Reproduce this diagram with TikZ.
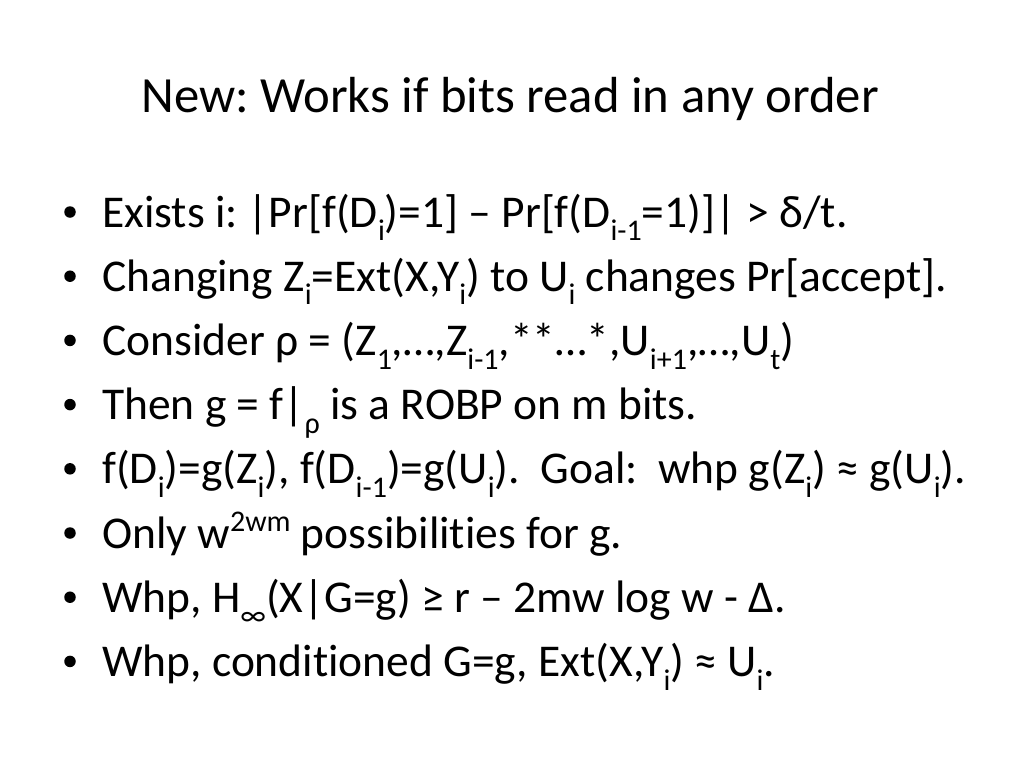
\documentclass[tikz,border=0pt]{standalone}
\usepackage{fontspec}
\setmainfont{Carlito}[Ligatures=CommonOff]
\frenchspacing
\newcommand\lo[1]{\raisebox{-0.3em}{\fontsize{30}{30}\selectfont #1}}
\newcommand\hi[1]{\raisebox{0.36em}{\fontsize{30}{30}\selectfont #1}}
\begin{document}
\begin{tikzpicture}[x=1pt,y=-1pt,
  body/.style={anchor=base west,inner sep=0pt,font=\fontsize{45.5}{50}\selectfont},
  ttl/.style={anchor=base,inner sep=0pt,font=\fontsize{50.7}{55}\selectfont},
  bul/.style={circle,fill=black,inner sep=0pt,minimum size=11.5pt}]
\useasboundingbox[fill=white] (0,0) rectangle (1024,768);
\node[ttl] (t) at (510,112) {New: Works if bits read in any order};
\foreach \k in {0,...,7}{\node[bul] (b\k) at (70,{212+64.2*\k}) {};}
\node[body] (l1) at (102,227) {Exists i: |Pr[f(D\lo{i})=1] – Pr[f(D\lo{i-1}=1)]| > δ/t.};
\node[body] (l2) at (102,291.2) {Changing Z\lo{i}=Ext(X,Y\lo{i}) to U\lo{i} changes Pr[accept].};
\node[body] (l3) at (102,355.4) {Consider ρ = (Z\lo{1},…,Z\lo{i-1},**…*,U\lo{i+1},…,U\lo{t})};
\node[body] (l4) at (102,419.6) {Then g = f|\lo{ρ} is a ROBP on m bits.};
\node[body] (l5) at (102,483.8) {f(D\lo{i})=g(Z\lo{i}), f(D\lo{i-1})=g(U\lo{i}).\ \ Goal:\ \ whp g(Z\lo{i}) ≈ g(U\lo{i}).};
\node[body] (l6) at (102,548) {Only w\hi{2wm} possibilities for g.};
\node[body] (l7) at (102,612.2) {Whp, H\lo{∞}(X|G=g) ≥ r – 2mw log w - Δ.};
\node[body] (l8) at (102,676.4) {Whp, conditioned G=g, Ext(X,Y\lo{i}) ≈ U\lo{i}.};
\end{tikzpicture}
\end{document}
